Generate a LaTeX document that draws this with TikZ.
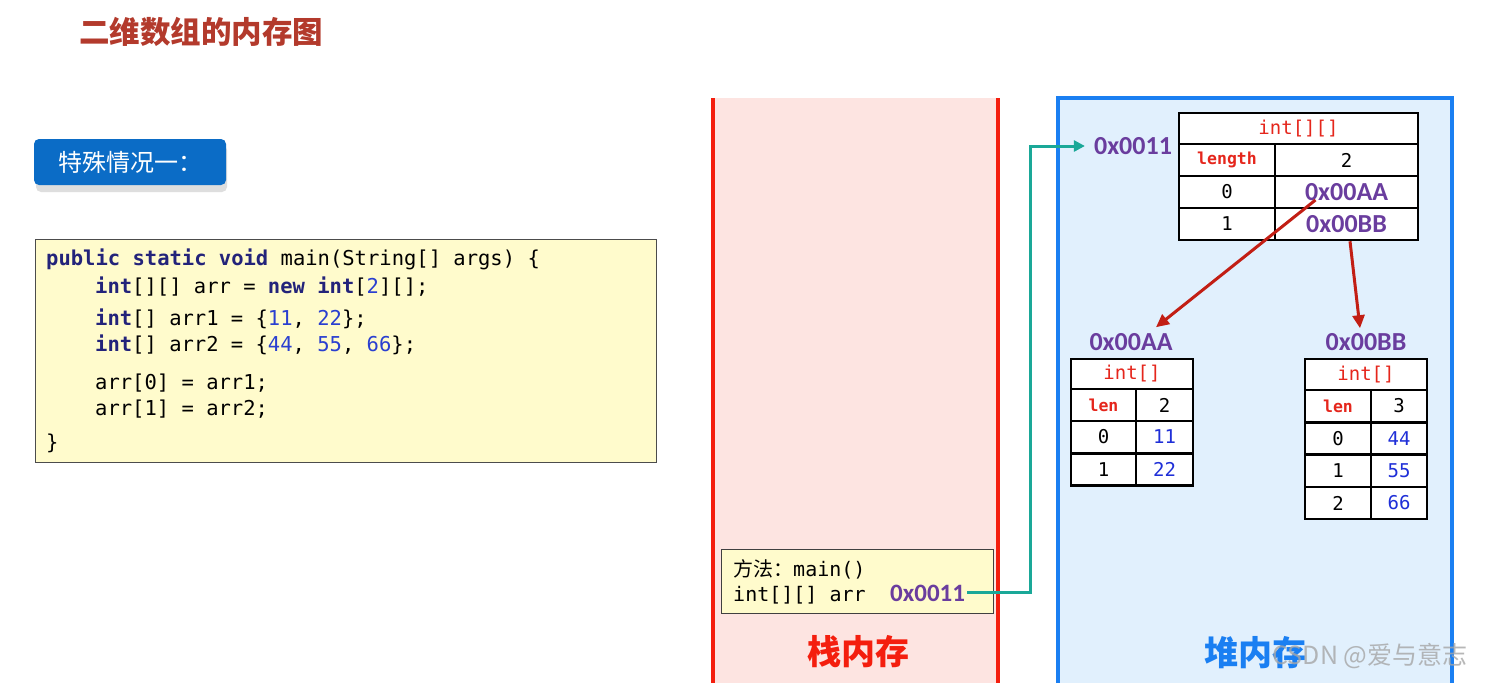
\documentclass[tikz,border=0pt]{standalone}
\usepackage{fontspec}
\setmonofont{DejaVu Sans Mono}
\newfontfamily\cjkfont{Noto Sans CJK SC}
\newfontfamily\calib{Carlito}
\usetikzlibrary{arrows.meta}
\definecolor{titlered}{HTML}{B33A2C}
\definecolor{btnblue}{HTML}{0B6CC6}
\definecolor{codebg}{HTML}{FFFBCC}
\definecolor{kwc}{HTML}{23237A}
\definecolor{numc}{HTML}{2A3FD0}
\definecolor{stackbg}{HTML}{FDE4E1}
\definecolor{stackred}{HTML}{F41E0E}
\definecolor{heapbg}{HTML}{E1F0FD}
\definecolor{heapblue}{HTML}{1A7FF2}
\definecolor{addrc}{HTML}{6A3D9E}
\definecolor{tealc}{HTML}{1AA898}
\definecolor{arrred}{HTML}{C21E14}
\definecolor{cellred}{HTML}{E5261C}
\definecolor{cellblue}{HTML}{1F2FD8}
\newcommand\kw[1]{{\bfseries\color{kwc}#1}}
\newcommand\nm[1]{{\color{numc}#1}}
\tikzset{
  codetxt/.style={anchor=base west, inner sep=0pt, font=\ttfamily\fontsize{20.5}{24}\selectfont},
  mtxt/.style={anchor=base west, inner sep=0pt, font=\ttfamily\fontsize{20}{24}\selectfont},
  addr/.style={inner sep=0pt, text=addrc, font=\calib\bfseries\fontsize{26}{30}\selectfont},
  cell/.style={draw=black, line width=2.5pt, fill=white, inner sep=0pt, font=\ttfamily\fontsize{19}{22}\selectfont},
  hdr/.style={cell, text=cellred},
  lenc/.style={cell, text=cellred, font=\ttfamily\bfseries\fontsize{16.5}{20}\selectfont},
  valc/.style={cell, text=cellblue},
  addrcell/.style={cell, text=addrc, font=\calib\bfseries\fontsize{26}{30}\selectfont},
  tealline/.style={draw=tealc, line width=3pt, -{Triangle[length=11pt,width=11pt]}},
  redarrow/.style={draw=arrred, line width=3pt, -{Triangle[length=13pt,width=12pt]}},
}
\begin{document}
\begin{tikzpicture}[x=1pt,y=-1pt]
\useasboundingbox (0,0) rectangle (1485,683);
\fill[white] (0,0) rectangle (1485,683);

% title
\node[inner sep=0pt, text=titlered, font=\cjkfont\bfseries\fontsize{30.5}{36}\selectfont] (title) at (201,32) {二维数组的内存图};

% button
\fill[black!13, rounded corners=5pt] (36,145) rectangle (227,192);
\node[fill=btnblue, rounded corners=5pt, minimum width=192pt, minimum height=46pt, inner sep=0pt, text=white, font=\cjkfont\fontsize{24}{28}\selectfont] (btn) at (130,162) {特殊情况一：\hspace{14pt}};

% code box
\node[draw=black!70, line width=1.3pt, fill=codebg, minimum width=621pt, minimum height=223pt, anchor=north west, inner sep=0pt] (code) at (35,239) {};
\node[codetxt] (c1) at (46,265) {\kw{public static void} main(String[] args) \{};
\node[codetxt] (c2) at (95,293) {\kw{int}[][] arr = \kw{new} \kw{int}[\nm{2}][];};
\node[codetxt] (c3) at (95,325) {\kw{int}[] arr1 = \{\nm{11}, \nm{22}\};};
\node[codetxt] (c4) at (95,351) {\kw{int}[] arr2 = \{\nm{44}, \nm{55}, \nm{66}\};};
\node[codetxt] (c5) at (95,389) {arr[0] = arr1;};
\node[codetxt] (c6) at (95,415) {arr[1] = arr2;};
\node[codetxt] (c7) at (46,449) {\}};

% stack area
\fill[stackbg] (713,98) rectangle (998,683);
\draw[stackred, line width=3.5pt] (713,98) -- (713,683);
\draw[stackred, line width=3.5pt] (998,98) -- (998,683);
\node[inner sep=0pt, text=stackred, font=\cjkfont\bfseries\fontsize{34}{40}\selectfont] (stacklbl) at (858,652) {栈内存};

% heap area
\fill[heapbg] (1058,98) rectangle (1452,683);
\draw[heapblue, line width=4pt] (1058,683) -- (1058,98) -- (1452,98) -- (1452,683);
\node[inner sep=0pt, text=heapblue, font=\cjkfont\bfseries\fontsize{34}{40}\selectfont] (heaplbl) at (1255,653) {堆内存};

% method box
\node[draw=black!75, line width=1.3pt, fill=codebg, minimum width=272pt, minimum height=64pt, anchor=north west, inner sep=0pt] (mbox) at (721,549) {};
\node[mtxt] (m1) at (733,576) {{\cjkfont 方法：}main()};
\node[mtxt] (m2) at (733,601) {int[][] arr};
\node[addr, anchor=base west, font=\calib\bfseries\fontsize{25}{30}\selectfont] (maddr) at (890,601) {0x0011};

% heap main array
\node[addr] (L0) at (1133,146) {0x0011};
\node[hdr, minimum width=239pt, minimum height=31pt] (t0h) at (1298.5,128.5) {int[][]};
\node[lenc, minimum width=96pt, minimum height=32pt] (t0l) at (1227,160) {length};
\node[cell, minimum width=143pt, minimum height=32pt] (t0lv) at (1346.5,160) {2};
\node[cell, minimum width=96pt, minimum height=32pt] (t0i0) at (1227,192) {0};
\node[addrcell, minimum width=143pt, minimum height=32pt] (bA) at (1346.5,192) {0x00AA};
\node[cell, minimum width=96pt, minimum height=32pt] (t0i1) at (1227,224) {1};
\node[addrcell, minimum width=143pt, minimum height=32pt] (bB) at (1346.5,224) {0x00BB};

% array A
\node[addr] (LA) at (1131,342) {0x00AA};
\node[hdr, minimum width=122pt, minimum height=30pt] (tah) at (1132,374) {int[]};
\node[lenc, minimum width=65pt, minimum height=32pt] (tal) at (1103.5,405) {len};
\node[cell, minimum width=57pt, minimum height=32pt] (talv) at (1164.5,405) {2};
\node[cell, minimum width=65pt, minimum height=32pt] (ta0) at (1103.5,437) {0};
\node[valc, minimum width=57pt, minimum height=32pt] (ta0v) at (1164.5,437) {11};
\node[cell, minimum width=65pt, minimum height=32pt] (ta1) at (1103.5,469.5) {1};
\node[valc, minimum width=57pt, minimum height=32pt] (ta1v) at (1164.5,469.5) {22};

% array B
\node[addr] (LB) at (1366,342) {0x00BB};
\node[hdr, minimum width=122pt, minimum height=31pt] (tbh) at (1366,374.5) {int[]};
\node[lenc, minimum width=66pt, minimum height=32pt] (tbl) at (1338,406) {len};
\node[cell, minimum width=56pt, minimum height=32pt] (tblv) at (1399,406) {3};
\node[cell, minimum width=66pt, minimum height=32pt] (tb0) at (1338,438.5) {0};
\node[valc, minimum width=56pt, minimum height=32pt] (tb0v) at (1399,438.5) {44};
\node[cell, minimum width=66pt, minimum height=32pt] (tb1) at (1338,471) {1};
\node[valc, minimum width=56pt, minimum height=32pt] (tb1v) at (1399,471) {55};
\node[cell, minimum width=66pt, minimum height=32pt] (tb2) at (1338,503) {2};
\node[valc, minimum width=56pt, minimum height=32pt] (tb2v) at (1399,503) {66};

% connectors
\coordinate (tx) at (1028,0);
\draw[tealline] ([xshift=2pt]maddr.east) -- ([xshift=2pt]maddr.east -| tx) |- ([xshift=-9pt]L0.west);
\draw[redarrow] ([xshift=-31pt,yshift=-8pt]bA.center) -- ([xshift=25pt,yshift=6pt]LA.north);
\draw[redarrow] ([xshift=3.5pt]bB.south) -- ([xshift=-6pt,yshift=5pt]LB.north);

% watermark
\node[inner sep=0pt, text=black!35, opacity=0.8, font=\cjkfont\fontsize{25}{30}\selectfont] (wm) at (1370,656) {CSDN @爱与意志};
\end{tikzpicture}
\end{document}
